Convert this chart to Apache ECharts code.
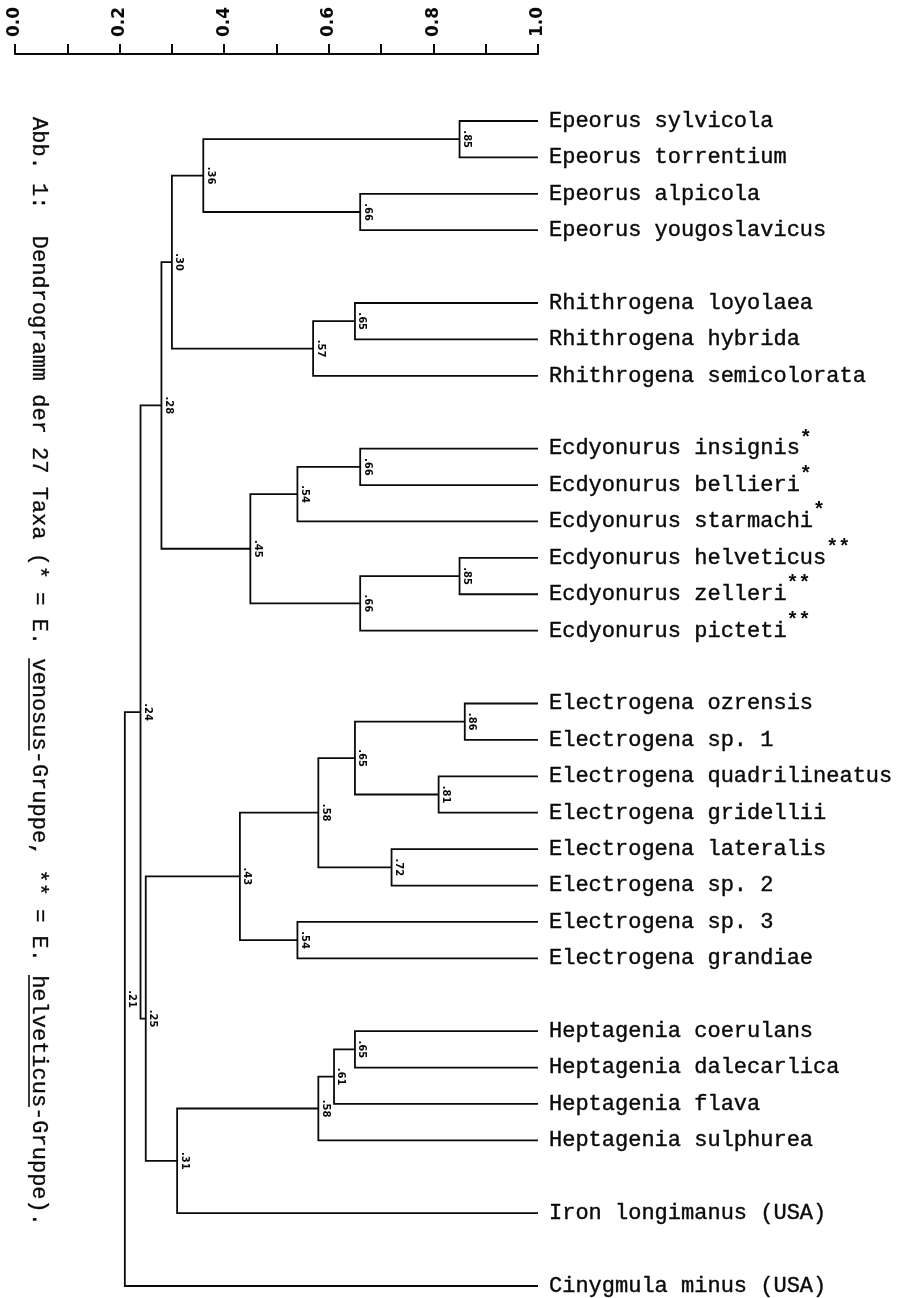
<!DOCTYPE html>
<html>
<head>
<meta charset="utf-8">
<script src="https://cdn.jsdelivr.net/npm/echarts@6/dist/echarts.min.js"></script>
<style>
html,body{margin:0;padding:0;background:#fff;}
#chart{width:912px;height:1298px;}
</style>
</head>
<body>
<div id="chart"></div>
<script>
// ---- data ----
const taxa = [
  'Epeorus sylvicola', 'Epeorus torrentium', 'Epeorus alpicola', 'Epeorus yougoslavicus',
  'Rhithrogena loyolaea', 'Rhithrogena hybrida', 'Rhithrogena semicolorata',
  'Ecdyonurus insignis', 'Ecdyonurus bellieri', 'Ecdyonurus starmachi',
  'Ecdyonurus helveticus', 'Ecdyonurus zelleri', 'Ecdyonurus picteti',
  'Electrogena ozrensis', 'Electrogena sp. 1', 'Electrogena quadrilineatus', 'Electrogena gridellii',
  'Electrogena lateralis', 'Electrogena sp. 2', 'Electrogena sp. 3', 'Electrogena grandiae',
  'Heptagenia coerulans', 'Heptagenia dalecarlica', 'Heptagenia flava', 'Heptagenia sulphurea',
  'Iron longimanus (USA)',
  'Cinygmula minus (USA)'
];
const taxaMarks = ['', '', '', '', '', '', '', '*', '*', '*', '**', '**', '**',
  '', '', '', '', '', '', '', '', '', '', '', '', '', ''];
const groupSizes = [4, 3, 6, 8, 4, 1, 1];
// nested clusters: [similarity, childA, childB]; numbers as children = taxa index
const tree = [0.21,
  [0.24,
    [0.28,
      [0.30, [0.36, [0.85, 0, 1], [0.66, 2, 3]], [0.57, [0.65, 4, 5], 6]],
      [0.45, [0.54, [0.66, 7, 8], 9], [0.66, [0.85, 10, 11], 12]]],
    [0.25,
      [0.43, [0.58, [0.65, [0.86, 13, 14], [0.81, 15, 16]], [0.72, 17, 18]], [0.54, 19, 20]],
      [0.31, [0.58, [0.61, [0.65, 21, 22], 23], 24], 25]]],
  26];
const axisTicks = [0, 0.2, 0.4, 0.6, 0.8, 1.0];
const caption = 'Abb. 1:  Dendrogramm der 27 Taxa (* = E. venosus-Gruppe, ** = E. helveticus-Gruppe).';
const underlined = ['venosus', 'helveticus'];

// ---- layout derived from data ----
const slots = [];
let s = 0;
groupSizes.forEach(function (g) {
  for (let k = 0; k < g; k++) slots.push(s++);
  s++; // blank slot between groups
});
const lastSlot = slots[slots.length - 1];

const brackets = [];
function walk(t) {
  if (typeof t === 'number') return { x: 1.0, y: slots[t] };
  const a = walk(t[1]), b = walk(t[2]);
  const ym = (a.y + b.y) / 2;
  brackets.push([t[0], a.y, b.y, a.x, b.x, ym]);
  return { x: t[0], y: ym };
}
walk(tree);
const leafData = taxa.map(function (n, i) { return [1.0, slots[i], i]; });

function fmtNode(v) { return v.toFixed(2).replace(/^0/, ''); }

const INK = '#0a0a0a';
const MONO = '"Liberation Mono", "Courier New", monospace';
const capFont = 22, capPitch = capFont * 0.6, capX = 39, capY = 117;

const graphics = [{
  type: 'text', x: capX, y: capY, rotation: -Math.PI / 2,
  style: { text: caption, fill: INK, stroke: INK, lineWidth: 0.3, font: capFont + 'px ' + MONO,
    textAlign: 'left', textVerticalAlign: 'middle', verticalAlign: 'middle' }
}];
underlined.forEach(function (w) {
  const i = caption.indexOf(w);
  graphics.push({
    type: 'line',
    shape: { x1: capX - 10, y1: capY + i * capPitch, x2: capX - 10, y2: capY + (i + w.length) * capPitch },
    style: { stroke: INK, lineWidth: 1.6 }
  });
});

const chart = echarts.init(document.getElementById('chart'), null, { renderer: 'canvas' });
chart.setOption({
  backgroundColor: '#fff',
  animation: false,
  grid: { left: 15, right: 374, top: 54, bottom: 12, containLabel: false, outerBoundsMode: 'none' },
  xAxis: {
    type: 'value', position: 'top', min: 0, max: 1, interval: 0.1,
    axisLine: { show: true, onZero: false, lineStyle: { color: INK, width: 2 } },
    axisTick: { show: true, inside: false, length: 10, lineStyle: { color: INK, width: 2 } },
    splitLine: { show: false },
    axisLabel: {
      rotate: -90, margin: 17, color: INK, fontFamily: 'DejaVu Sans', fontSize: 17, fontWeight: 'bold',
      formatter: function (v) {
        const r = Math.round(v * 10) / 10;
        return axisTicks.some(function (t) { return Math.abs(t - r) < 1e-6; }) ? r.toFixed(1) : '';
      }
    }
  },
  yAxis: { type: 'value', inverse: true, min: -1.84, max: lastSlot, show: false },
  graphic: graphics,
  series: [
    {
      type: 'custom', clip: false, silent: true,
      data: brackets,
      encode: { x: [0, 3, 4], y: [1, 2] },
      renderItem: function (params, api) {
        const h = api.value(0), y1 = api.value(1), y2 = api.value(2),
          x1 = api.value(3), x2 = api.value(4), ym = api.value(5);
        const p1 = api.coord([x1, y1]), a = api.coord([h, y1]),
          b = api.coord([h, y2]), p2 = api.coord([x2, y2]), m = api.coord([h, ym]);
        return {
          type: 'group',
          children: [
            { type: 'polyline', shape: { points: [p1, a, b, p2] },
              style: { stroke: INK, lineWidth: 1.8, fill: null } },
            { type: 'text', x: m[0] + 2, y: m[1], rotation: -Math.PI / 2,
              style: { text: fmtNode(h), fill: INK, font: 'bold 10px "DejaVu Sans"',
                textAlign: 'center', textVerticalAlign: 'bottom', verticalAlign: 'bottom' } }
          ]
        };
      }
    },
    {
      type: 'custom', clip: false, silent: true,
      data: leafData,
      encode: { x: 0, y: 1 },
      renderItem: function (params, api) {
        const i = api.value(2);
        const p = api.coord([api.value(0), api.value(1)]);
        const name = taxa[i], mk = taxaMarks[i];
        const children = [
          { type: 'text', x: p[0] + 11, y: p[1],
            style: { text: name, fill: INK, stroke: INK, lineWidth: 0.4, font: '22px ' + MONO,
              textAlign: 'left', textVerticalAlign: 'middle', verticalAlign: 'middle' } }
        ];
        if (mk) children.push({
          type: 'text', x: p[0] + 11 + name.length * 13.2, y: p[1] - 10,
          style: { text: mk, fill: INK, font: 'bold 20px ' + MONO,
            textAlign: 'left', textVerticalAlign: 'middle', verticalAlign: 'middle' }
        });
        return { type: 'group', children: children };
      }
    }
  ]
});
</script>
</body>
</html>
